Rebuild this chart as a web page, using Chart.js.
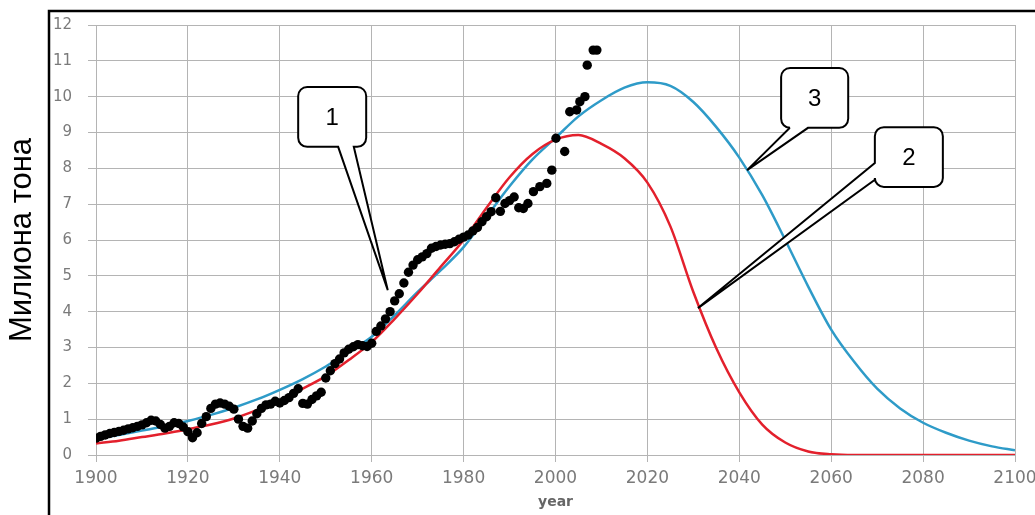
<!DOCTYPE html>
<html><head><meta charset="utf-8">
<script src="https://cdn.jsdelivr.net/npm/chart.js@4.4.0/dist/chart.umd.min.js"></script>
<style>html,body{margin:0;padding:0;background:#fff;} #wrap{width:1035px;height:515px;position:relative;}</style>
</head><body><div id="wrap"><canvas id="c" width="1035" height="515"></canvas></div>
<script>
const curveYears = [1900,1905,1910,1915,1920,1925,1930,1935,1940,1945,1950,1955,1960,1965,1970,1975,1980,1985,1990,1995,2000,2005,2010,2015,2020,2025,2030,2035,2040,2045,2050,2055,2060,2065,2070,2075,2080,2085,2090,2095,2100];
const model2Values = [0.32,0.4,0.5,0.6,0.72,0.85,1.02,1.25,1.52,1.85,2.2,2.65,3.15,3.8,4.5,5.25,6.0,6.9,7.75,8.4,8.8,8.93,8.68,8.28,7.6,6.38,4.55,2.98,1.75,0.85,0.35,0.1,0.02,0,0,0,0,0,0,0,0];
const model3Values = [0.45,0.56,0.68,0.8,0.95,1.12,1.32,1.55,1.82,2.12,2.47,2.88,3.3,3.9,4.55,5.15,5.8,6.65,7.5,8.25,8.85,9.45,9.9,10.25,10.4,10.3,9.85,9.15,8.3,7.25,6.0,4.7,3.5,2.6,1.85,1.3,0.9,0.62,0.4,0.24,0.13];
const dotYears = [1900,1901,1902,1903,1904,1905,1906,1907,1908,1909,1910,1911,1912,1913,1914,1915,1916,1917,1918,1919,1920,1921,1922,1923,1924,1925,1926,1927,1928,1929,1930,1931,1932,1933,1934,1935,1936,1937,1938,1939,1940,1941,1942,1943,1944,1945,1946,1947,1948,1949,1950,1951,1952,1953,1954,1955,1956,1957,1958,1959,1960,1961,1962,1963,1964,1965,1966,1967,1968,1969,1970,1971,1972,1973,1974,1975,1976,1977,1978,1979,1980,1981,1982,1983,1984,1985,1986,1987,1988,1989,1990,1991,1992,1993,1994,1995.2,1996.6,1998.1,1999.2,2000.1,2002,2003.1,2004.6,2005.3,2006.4,2006.9,2008.2,2009];
const dotValues = [0.47,0.52,0.56,0.6,0.63,0.66,0.69,0.73,0.76,0.8,0.84,0.9,0.97,0.95,0.85,0.75,0.8,0.9,0.88,0.78,0.65,0.48,0.62,0.88,1.07,1.3,1.42,1.45,1.42,1.36,1.28,1.0,0.8,0.75,0.95,1.15,1.3,1.4,1.42,1.5,1.45,1.52,1.6,1.72,1.85,1.44,1.42,1.55,1.65,1.75,2.15,2.35,2.55,2.68,2.85,2.95,3.02,3.08,3.05,3.03,3.12,3.45,3.6,3.8,4.0,4.3,4.5,4.8,5.1,5.3,5.45,5.53,5.62,5.77,5.82,5.86,5.88,5.9,5.95,6.02,6.08,6.14,6.25,6.35,6.51,6.65,6.79,7.18,6.8,7.02,7.1,7.2,6.9,6.88,7.02,7.35,7.49,7.58,7.95,8.84,8.47,9.58,9.63,9.86,10.0,10.88,11.3,11.3];
const xTickValues = [1900,1920,1940,1960,1980,2000,2020,2040,2060,2080,2100];
const yTickValues = [0,1,2,3,4,5,6,7,8,9,10,11,12];
const yAxisTitle = 'Милиона тона';
const xAxisTitle = 'year';
const calloutLabels = ['1','2','3'];

const toPoints = (xs, ys) => xs.map((x, i) => ({x: x, y: ys[i]}));

const callouts = [
  {label: calloutLabels[0], box: [1944, 10.27, 1958.8, 8.6], side: 'bottom', base: [1952.7, 1956.1], tip: [1963.5, 4.6]},
  {label: calloutLabels[1], box: [2069.5, 9.15, 2084.3, 7.48], side: 'left', base: [8.15, 7.68], tip: [2031, 4.1]},
  {label: calloutLabels[2], box: [2049.1, 10.8, 2063.7, 9.13], side: 'bottom', base: [2051, 2054.95], tip: [2041.7, 7.95]}
];

function calloutPath(ctx, l, t, r, b, rad, side, p1, p2, tip) {
  ctx.beginPath();
  ctx.moveTo(l + rad, t);
  ctx.lineTo(r - rad, t);
  ctx.arcTo(r, t, r, t + rad, rad);
  ctx.lineTo(r, b - rad);
  ctx.arcTo(r, b, r - rad, b, rad);
  if (side === 'bottom') {
    ctx.lineTo(Math.max(p1, p2), b);
    ctx.lineTo(tip.x, tip.y);
    ctx.lineTo(Math.min(p1, p2), b);
  }
  ctx.lineTo(l + rad, b);
  ctx.arcTo(l, b, l, b - rad, rad);
  if (side === 'left') {
    ctx.lineTo(l, Math.max(p1, p2));
    ctx.lineTo(tip.x, tip.y);
    ctx.lineTo(l, Math.min(p1, p2));
  }
  ctx.lineTo(l, t + rad);
  ctx.arcTo(l, t, l + rad, t, rad);
  ctx.closePath();
}

const decor = {
  id: 'decor',
  beforeDraw(chart) {
    const ctx = chart.ctx;
    ctx.save();
    ctx.fillStyle = '#fff';
    ctx.fillRect(0, 0, chart.width, chart.height);
    ctx.restore();
  },
  afterDraw(chart) {
    const ctx = chart.ctx;
    const xs = chart.scales.x, ys = chart.scales.y;
    ctx.save();
    callouts.forEach(c => {
      const l = xs.getPixelForValue(c.box[0]), t = ys.getPixelForValue(c.box[1]);
      const r = xs.getPixelForValue(c.box[2]), b = ys.getPixelForValue(c.box[3]);
      const tip = {x: xs.getPixelForValue(c.tip[0]), y: ys.getPixelForValue(c.tip[1])};
      let p1, p2;
      if (c.side === 'bottom') { p1 = xs.getPixelForValue(c.base[0]); p2 = xs.getPixelForValue(c.base[1]); }
      else { p1 = ys.getPixelForValue(c.base[0]); p2 = ys.getPixelForValue(c.base[1]); }
      calloutPath(ctx, l, t, r, b, 9, c.side, p1, p2, tip);
      ctx.fillStyle = '#fff';
      ctx.fill();
      ctx.lineWidth = 2;
      ctx.strokeStyle = '#000';
      ctx.lineJoin = 'miter';
      ctx.stroke();
      ctx.fillStyle = '#000';
      ctx.font = '24px "Liberation Sans", Arial, sans-serif';
      ctx.textAlign = 'center';
      ctx.textBaseline = 'middle';
      ctx.fillText(c.label, (l + r) / 2, (t + b) / 2 + 1);
    });
    ctx.lineWidth = 2.5;
    ctx.strokeStyle = '#000';
    ctx.strokeRect(49, 11, 1100, 600);
    ctx.restore();
  }
};

new Chart(document.getElementById('c'), {
  type: 'scatter',
  data: {
    datasets: [
      {label: '1', data: toPoints(dotYears, dotValues), pointRadius: 4.7, pointHoverRadius: 4.7,
       backgroundColor: '#000', borderColor: '#000', borderWidth: 0, showLine: false, order: 1},
      {label: '2', data: toPoints(curveYears, model2Values), showLine: true, borderColor: '#e3202c',
       borderWidth: 2.5, pointRadius: 0, cubicInterpolationMode: 'monotone', fill: false, order: 2},
      {label: '3', data: toPoints(curveYears, model3Values), showLine: true, borderColor: '#2e9bc8',
       borderWidth: 2.5, pointRadius: 0, cubicInterpolationMode: 'monotone', fill: false, order: 3}
    ]
  },
  options: {
    responsive: false,
    animation: false,
    events: [],
    layout: {padding: {left: 0, right: 20, top: 25, bottom: 0}},
    plugins: {legend: {display: false}, tooltip: {enabled: false}},
    scales: {
      x: {
        type: 'linear', min: 1900, max: 2100,
        afterBuildTicks: s => { s.ticks = xTickValues.map(v => ({value: v})); },
        ticks: {color: '#7a7a7a', font: {family: 'DejaVu Sans', size: 17}, padding: 6, maxRotation: 0, autoSkip: false, callback: v => String(v)},
        grid: {color: '#b4b4b4', lineWidth: 1, tickLength: 7},
        border: {display: true, color: '#b4b4b4'},
        title: {display: true, text: xAxisTitle, color: '#666', font: {family: 'DejaVu Sans', size: 14, weight: 'bold'}, padding: {top: 0, bottom: 4}},
        afterFit: s => { s.height = 60; s.paddingLeft = 0; s.paddingRight = 0; }
      },
      y: {
        min: 0, max: 12,
        afterBuildTicks: s => { s.ticks = yTickValues.map(v => ({value: v})); },
        ticks: {color: '#7a7a7a', font: {family: 'DejaVu Sans', size: 15}, padding: 16},
        grid: {color: '#b4b4b4', lineWidth: 1, tickLength: 8},
        border: {display: true, color: '#b4b4b4'},
        title: {display: true, text: yAxisTitle, color: '#000', font: {family: 'Liberation Sans', size: 31}, padding: {top: 4, bottom: 0}},
        afterFit: s => { s.width = 96; }
      }
    }
  },
  plugins: [decor]
});
</script>
</body></html>
